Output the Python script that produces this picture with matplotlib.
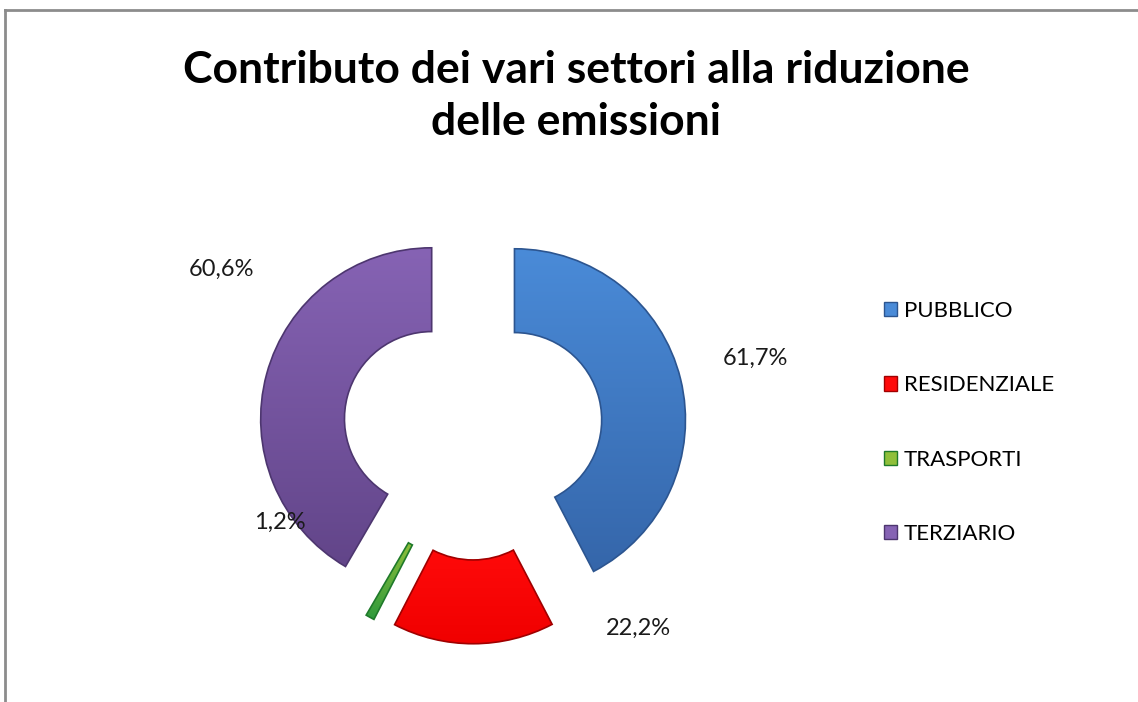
import matplotlib.pyplot as plt
import numpy as np
from matplotlib.patches import Patch
from matplotlib.lines import Line2D
from matplotlib.colors import LinearSegmentedColormap

settori = ['PUBBLICO', 'RESIDENZIALE', 'TRASPORTI', 'TERZIARIO']
valori = [61.7, 22.2, 1.2, 60.6]
etichette = ['61,7%', '22,2%', '1,2%', '60,6%']

# light -> dark colours for a bit of the excel bevel look
col_chiari = ['#4a8bd8', '#ff0a0a', '#8fbf3a', '#8663b4']
col_scuri = ['#3566aa', '#f00000', '#2e9a3c', '#624589']
col_bordo = ['#2c5590', '#a00000', '#1f7a2a', '#4d366f']

# where excel put the data labels (data units, radius = 1)
label_xy = [(1.65, 0.42), (0.97, -1.16), (-1.13, -0.54), (-1.47, 0.94)]

fig = plt.figure(figsize=(11.38, 7.02), dpi=100)
ax = fig.add_axes([0.1902, 0.0221, 0.4508, 0.7308])
ax.set_xlim(-1.5, 1.5)
ax.set_ylim(-1.5, 1.5)
ax.set_aspect('equal')
ax.axis('off')

wedges, _ = ax.pie(valori, startangle=90, counterclock=False, radius=1,
                   explode=[0.25] * 4, colors=col_chiari,
                   wedgeprops=dict(width=0.49, linewidth=1.2))

for w, c1, c2, cb in zip(wedges, col_chiari, col_scuri, col_bordo):
    w.set_edgecolor(cb)
    bb = w.get_path().get_extents()
    cmap = LinearSegmentedColormap.from_list('g', [c2, c1])
    grad = np.linspace(0, 1, 256).reshape(-1, 1)
    im = ax.imshow(grad, cmap=cmap, origin='lower', aspect='auto',
                   extent=[bb.x0, bb.x1, bb.y0, bb.y1], zorder=w.get_zorder() - 0.1)
    im.set_clip_path(w)
    w.set_facecolor('none')

for (x, y), t in zip(label_xy, etichette):
    ax.text(x, y, t, ha='center', va='center', fontsize=17, family='Lato', color='#1a1a1a')

ax.set_xlim(-1.5, 1.5)
ax.set_ylim(-1.5, 1.5)

fig.text(0.506, 0.863, 'Contributo dei vari settori alla riduzione\ndelle emissioni',
         ha='center', va='center', fontsize=32, fontweight='bold', family='Lato',
         linespacing=1.35)

handles = [Patch(facecolor=c, edgecolor=b, linewidth=1) for c, b in zip(col_chiari, col_bordo)]
fig.legend(handles, settori, loc='center left', bbox_to_anchor=(0.7765, 0.398),
           frameon=False, prop={'family': 'Lato', 'size': 16},
           borderpad=0, borderaxespad=0,
           handlelength=0.6, handleheight=0.6, handletextpad=0.3, labelspacing=2.45)

# grey frame (only top and left show in the reference)
fig.add_artist(Line2D([0.0045, 0.0045], [0, 0.986], transform=fig.transFigure, color='#8c8c8c', lw=2))
fig.add_artist(Line2D([0.0045, 1], [0.986, 0.986], transform=fig.transFigure, color='#8c8c8c', lw=2))

fig.savefig('out.png', dpi=100)
